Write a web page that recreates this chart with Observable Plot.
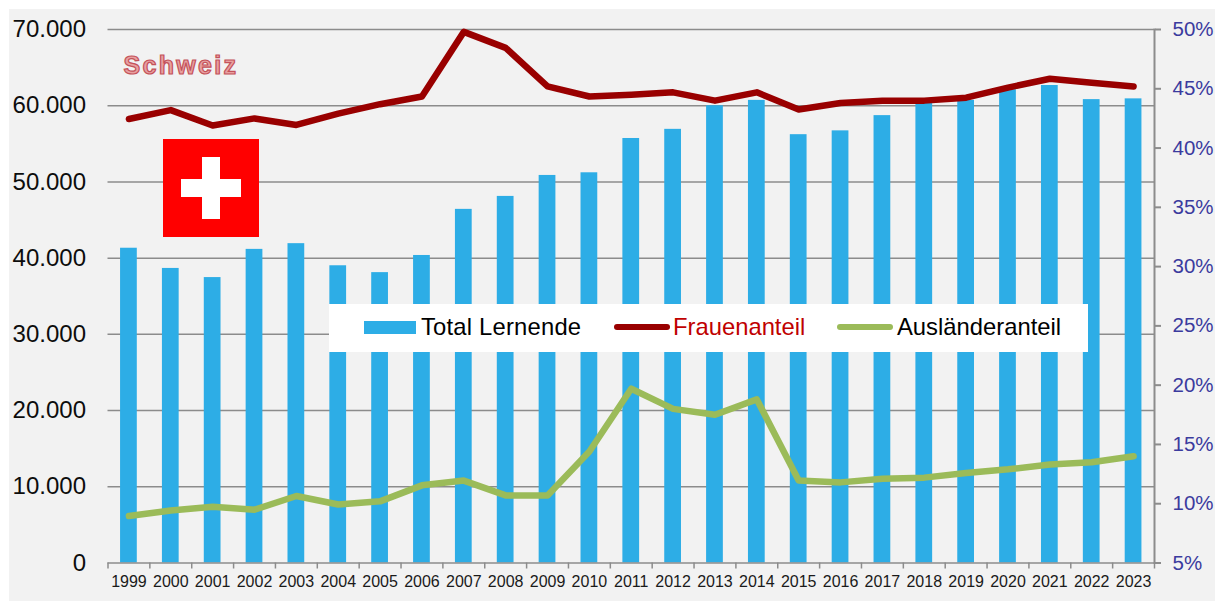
<!DOCTYPE html>
<html><head><meta charset="utf-8">
<script src="https://cdn.jsdelivr.net/npm/d3@7"></script>
<script src="https://cdn.jsdelivr.net/npm/@observablehq/plot@0.6"></script>
<style>
html,body{margin:0;padding:0;background:#fff;overflow:hidden}
#wrap{position:relative;width:1215px;height:601px;font-family:"Liberation Sans",Arial,sans-serif}
#bg{position:absolute;left:9px;top:9px;width:1206px;height:592px;background:#f2f2f2}
#chart{position:absolute;left:0;top:0}
#chart svg{display:block}
.abs{position:absolute}
#legend{left:329px;top:304px;width:759px;height:48px;background:#fff}
.lt{position:absolute;top:8px;font-size:23.8px;line-height:30px;white-space:nowrap;color:#000}
.sw{position:absolute}
#title{left:123.5px;top:50px;font-size:25px;font-weight:bold;letter-spacing:2.3px;line-height:30px;color:#e8a0a0;-webkit-text-stroke:1.2px #c4525a;white-space:nowrap}
</style></head><body>
<div id="wrap">
  <div id="bg"></div>
  <div id="chart"></div>
  <div class="abs" id="title">Schweiz</div>
  <div class="abs" style="left:163px;top:139px;width:96px;height:98px;background:#ff0000"></div>
  <div class="abs" style="left:202px;top:157px;width:18px;height:61.5px;background:#fff"></div>
  <div class="abs" style="left:181px;top:178.5px;width:60px;height:18.5px;background:#fff"></div>
  <div class="abs" id="legend">
    <div class="sw" style="left:35px;top:17px;width:52px;height:13px;background:#2dade6"></div>
    <div class="lt" style="left:92px;letter-spacing:.2px">Total Lernende</div>
    <div class="sw" style="left:285px;top:20px;width:56px;height:6px;border-radius:3px;background:#990000"></div>
    <div class="lt" style="left:344px;color:#c00000">Frauenanteil</div>
    <div class="sw" style="left:508px;top:20px;width:56px;height:6px;border-radius:3px;background:#9bbb59"></div>
    <div class="lt" style="left:568px">Ausländeranteil</div>
  </div>
</div>
<script>
const years = [1999,2000,2001,2002,2003,2004,2005,2006,2007,2008,2009,2010,2011,2012,2013,2014,2015,2016,2017,2018,2019,2020,2021,2022,2023];
const totalLernende = [41300,38650,37450,41150,41900,39000,38100,40350,46400,48100,50850,51200,55700,56900,60000,60700,56200,56700,58700,60300,60700,62100,62650,60800,60900];
const frauenanteil = [42.45,43.2,41.9,42.5,41.95,42.9,43.7,44.35,49.8,48.45,45.2,44.35,44.5,44.7,44.0,44.7,43.25,43.8,44.0,44.0,44.25,45.1,45.85,45.5,45.2];
const auslaenderanteil = [8.96,9.43,9.75,9.5,10.65,9.93,10.2,11.55,11.95,10.7,10.7,14.4,19.7,18.0,17.5,18.8,11.95,11.8,12.1,12.2,12.6,12.9,13.3,13.5,14.0];
const leftTicks = [0,10000,20000,30000,40000,50000,60000,70000];
const rightTicks = [5,10,15,20,25,30,35,40,45,50];

const yMax = 70000;
const pctToY = p => (p - 5) / 45 * yMax;
const yToPct = v => Math.round(v / yMax * 45 + 5);
const leftFmt = v => v === 0 ? "0" : `${v / 1000}.000`;

const marginLeft = 107.5, marginRight = 61, W = 1215;
const step = (W - marginLeft - marginRight) / years.length;
const halfBand = step / 2;
const gray = "#8c8c8c";

const plot = Plot.plot({
  width: W, height: 601,
  marginLeft, marginRight, marginTop: 29, marginBottom: 38.5,
  style: {fontFamily: '"Liberation Sans", Arial, sans-serif', background: "transparent", overflow: "visible"},
  x: {type: "band", domain: years, padding: 0, round: false, label: null},
  y: {domain: [0, yMax], label: null},
  marks: [
    Plot.ruleY(leftTicks.filter(d => d > 0), {stroke: gray, strokeWidth: 1.5}),
    Plot.barY(years, {x: years, y: totalLernende, fill: "#2dade6", insetLeft: step * 0.3, insetRight: step * 0.3}),
    Plot.ruleY([0], {stroke: gray, strokeWidth: 1.5}),
    Plot.frame({anchor: "right", stroke: gray, strokeWidth: 2}),
    Plot.axisX({anchor: "bottom", tickSize: 0, tickPadding: 13, fontSize: 16, fill: "#1a1a1a", tickFormat: d => String(d), label: null}),
    Plot.axisX({anchor: "bottom", tickSize: 6, stroke: gray, strokeWidth: 1.5, dx: -halfBand, tickFormat: () => "", label: null}),
    Plot.axisX({anchor: "bottom", ticks: [years[years.length - 1]], tickSize: 6, stroke: gray, strokeWidth: 1.5, dx: halfBand, tickFormat: () => "", label: null}),
    Plot.axisY({anchor: "left", ticks: leftTicks, tickSize: 0, tickPadding: 22, fontSize: 24, fill: "#0d0d0d", tickFormat: leftFmt, label: null}),
    Plot.axisY({anchor: "right", ticks: rightTicks.map(pctToY), tickSize: 6, tickPadding: 12, fontSize: 20.5, stroke: gray, strokeWidth: 2, fill: "#3b3b9e", tickFormat: v => yToPct(v) + "%", label: null}),
    Plot.line(years, {x: years, y: frauenanteil.map(pctToY), stroke: "#990000", strokeWidth: 6.5, strokeLinecap: "round", strokeLinejoin: "round"}),
    Plot.line(years, {x: years, y: auslaenderanteil.map(pctToY), stroke: "#9bbb59", strokeWidth: 6.5, strokeLinecap: "round", strokeLinejoin: "round"})
  ]
});
document.getElementById("chart").append(plot);
</script>
</body></html>
